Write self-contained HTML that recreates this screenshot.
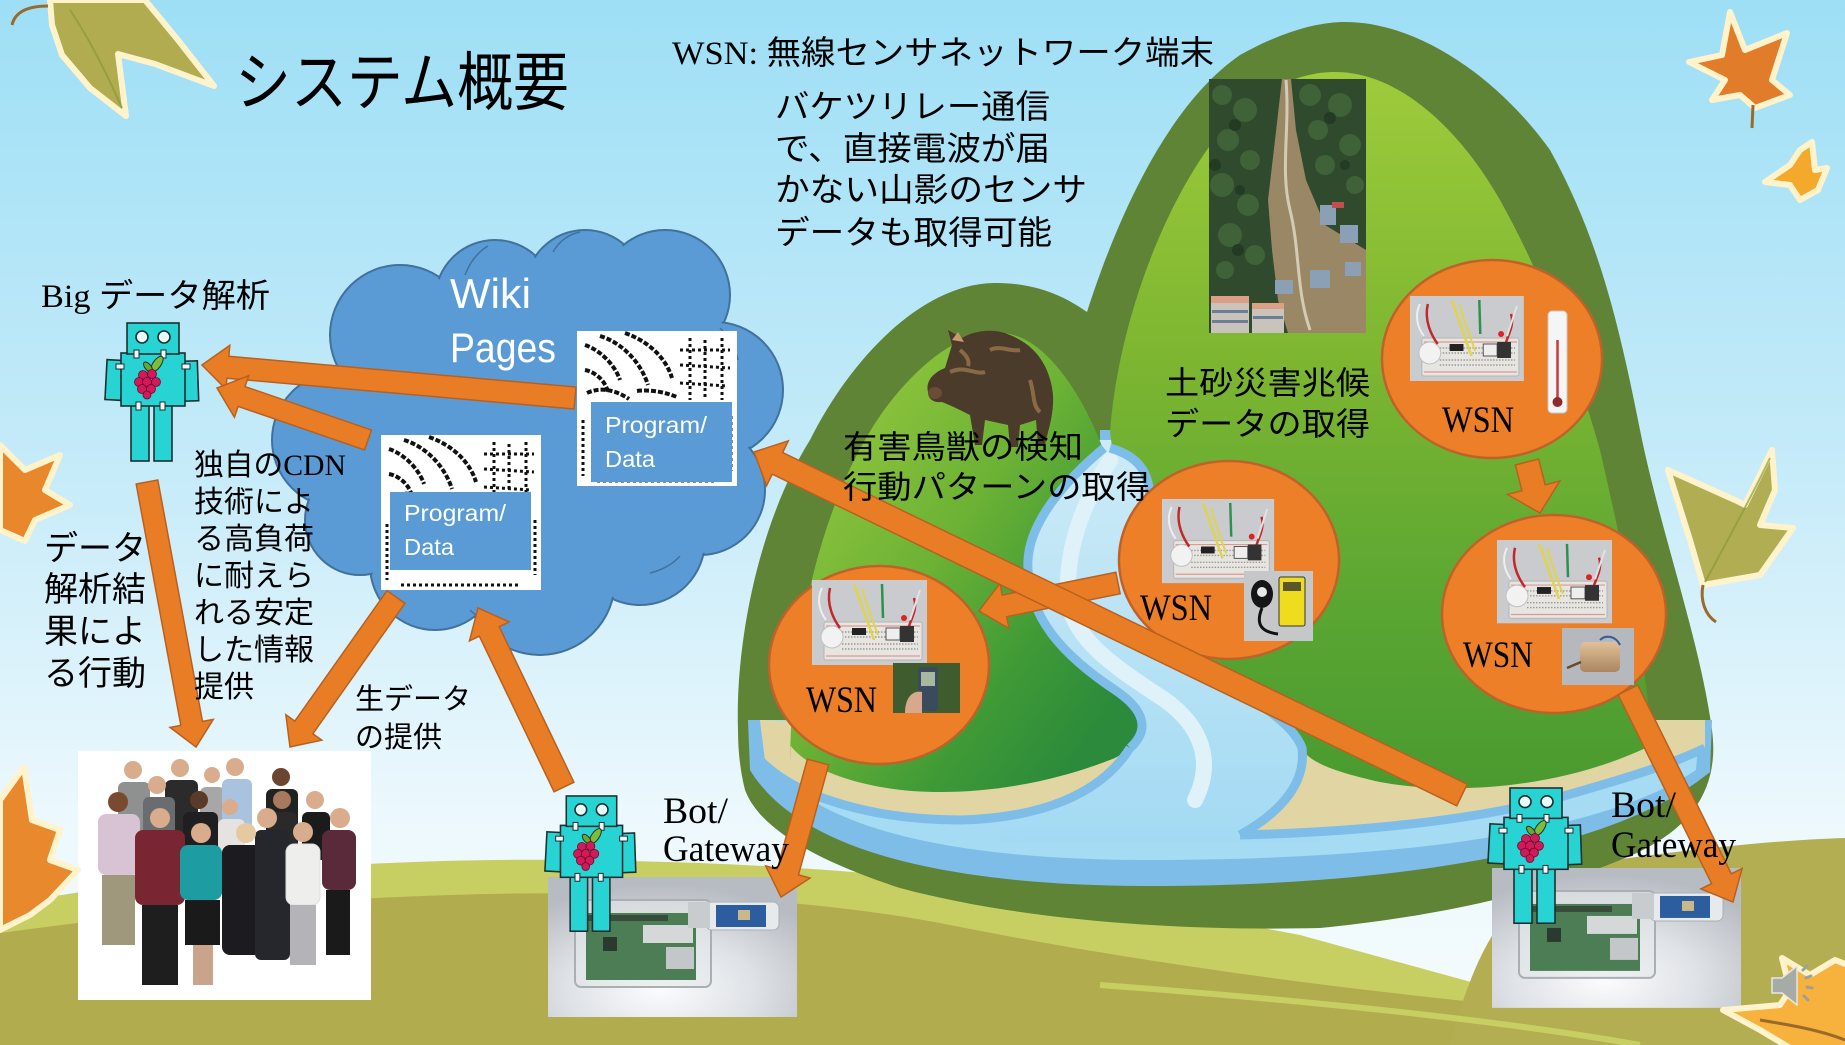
<!DOCTYPE html>
<html><head><meta charset="utf-8">
<style>html,body{margin:0;padding:0;background:#fff;overflow:hidden}svg{display:block}</style>
</head><body>
<svg width="1845" height="1045" viewBox="0 0 1845 1045" xmlns="http://www.w3.org/2000/svg" xmlns:xlink="http://www.w3.org/1999/xlink">
<defs>
  <linearGradient id="sky" x1="0" y1="0" x2="0" y2="1">
    <stop offset="0" stop-color="#9edff6"/>
    <stop offset="0.45" stop-color="#c6ebf9"/>
    <stop offset="0.8" stop-color="#eef9fd"/>
    <stop offset="1" stop-color="#f4fbfd"/>
  </linearGradient>
  <linearGradient id="smallG" x1="0.1" y1="0.1" x2="0.9" y2="0.85">
    <stop offset="0" stop-color="#96c83e"/>
    <stop offset="0.45" stop-color="#6cb235"/>
    <stop offset="0.75" stop-color="#3f9a36"/>
    <stop offset="1" stop-color="#2b8a3b"/>
  </linearGradient>
  <linearGradient id="bigG" x1="0" y1="0" x2="0" y2="1">
    <stop offset="0" stop-color="#9ecb3b"/>
    <stop offset="0.4" stop-color="#7db631"/>
    <stop offset="0.75" stop-color="#5aa632"/>
    <stop offset="1" stop-color="#4a9a30"/>
  </linearGradient>
  <linearGradient id="riverG" x1="0" y1="0" x2="0" y2="1">
    <stop offset="0" stop-color="#cdebf7"/>
    <stop offset="1" stop-color="#a3daf3"/>
  </linearGradient>
  <radialGradient id="gwGrad" cx="0.45" cy="0.8" r="0.75">
    <stop offset="0" stop-color="#fbfcfd"/>
    <stop offset="0.5" stop-color="#dfe2e6"/>
    <stop offset="1" stop-color="#b7bbc2"/>
  </radialGradient>
  <linearGradient id="motorG" x1="0" y1="0" x2="0" y2="1">
    <stop offset="0" stop-color="#e0c09a"/>
    <stop offset="1" stop-color="#a98660"/>
  </linearGradient>

  <g id="robot" stroke="#1d2f30" stroke-width="1.6">
    <rect x="3" y="38" width="16" height="40" fill="#27d3d3" transform="rotate(3 11 58)"/>
    <rect x="81" y="39" width="14" height="40" fill="#27d3d3" transform="rotate(-2 88 59)"/>
    <rect x="28" y="83" width="18" height="56" fill="#27d3d3"/>
    <rect x="51" y="83" width="18" height="56" fill="#27d3d3"/>
    <rect x="18" y="31" width="64" height="53" fill="#27d3d3"/>
    <rect x="24" y="1" width="52" height="31" fill="#27d3d3"/>
    <circle cx="39" cy="15" r="6" fill="#e8fbfb"/>
    <circle cx="61" cy="15" r="6" fill="#e8fbfb"/>
    <g fill="#f4f4f4" stroke-width="1">
      <rect x="31" y="28" width="5" height="8"/><rect x="58" y="28" width="5" height="8"/>
      <rect x="13" y="42" width="8" height="5"/><rect x="79" y="42" width="8" height="5"/>
      <rect x="33" y="80" width="5" height="8"/><rect x="57" y="80" width="5" height="8"/>
    </g>
    <ellipse cx="54" cy="42" rx="4" ry="9" fill="#7cbd3a" transform="rotate(35 54 42)" stroke-width="1"/>
    <ellipse cx="45" cy="45" rx="3" ry="6" fill="#6aa832" transform="rotate(-40 45 45)" stroke-width="1"/>
    <g fill="#d3195a" stroke="#6a0a2a" stroke-width="0.8">
      <circle cx="40" cy="53" r="4.5"/><circle cx="49" cy="52" r="4.5"/>
      <circle cx="36" cy="60" r="4.5"/><circle cx="44" cy="60" r="4.5"/><circle cx="53" cy="60" r="4.5"/>
      <circle cx="39" cy="67" r="4.5"/><circle cx="48" cy="67" r="4.5"/>
      <circle cx="44" cy="73" r="4"/>
    </g>
  </g>

  <g id="bb">
    <rect width="115" height="85" fill="#c9cbce"/>
    <rect x="12" y="42" width="98" height="38" rx="2" fill="#e6e5e0" stroke="#b5b5b5"/>
    <line x1="14" y1="46" x2="108" y2="46" stroke="#d99" stroke-width="1.2"/>
    <line x1="14" y1="76" x2="108" y2="76" stroke="#d99" stroke-width="1.2"/>
    <g stroke="#9a9a9a" stroke-width="1.4" stroke-dasharray="1.5 1.5">
      <line x1="30" y1="52" x2="106" y2="52"/><line x1="30" y1="57" x2="106" y2="57"/>
      <line x1="30" y1="64" x2="106" y2="64"/><line x1="30" y1="69" x2="106" y2="69"/>
    </g>
    <path d="M10 8 C 4 20, 8 32, 14 40" stroke="#eeeeee" stroke-width="2" fill="none"/>
    <circle cx="20" cy="57" r="11" fill="#f2f2f2" stroke="#c0c0c0"/>
    <path d="M18 8 C 14 25, 22 40, 28 48" stroke="#c0282c" stroke-width="2.5" fill="none"/>
    <path d="M42 4 C 48 20, 55 40, 62 60" stroke="#e0d54a" stroke-width="2.5" fill="none"/>
    <path d="M50 8 C 55 25, 60 40, 66 55" stroke="#e0d54a" stroke-width="2" fill="none"/>
    <path d="M70 4 L 71 38" stroke="#2f8f4f" stroke-width="2.5"/>
    <path d="M102 18 C 106 30, 98 40, 96 50" stroke="#c0282c" stroke-width="2.5" fill="none"/>
    <path d="M108 10 L 98 40" stroke="#e2e2e2" stroke-width="2"/>
    <rect x="40" y="48" width="14" height="7" fill="#222"/>
    <rect x="74" y="48" width="14" height="12" fill="#eee" stroke="#555"/>
    <rect x="88" y="46" width="14" height="16" fill="#333"/>
    <circle cx="92" cy="38" r="3" fill="#d22"/>
  </g>

  <g id="gw">
    <rect width="249" height="140" fill="url(#gwGrad)"/>
    <rect x="27" y="23" width="136" height="87" rx="6" fill="#e4e8ea" fill-opacity="0.6" stroke="#a9b0b5" stroke-width="2"/>
    <rect x="38" y="36" width="110" height="67" fill="#4d7d55"/>
    <rect x="40" y="38" width="80" height="6" fill="#2c2c2c" opacity="0.6"/>
    <rect x="95" y="48" width="50" height="18" fill="#d5d8d8"/>
    <rect x="118" y="70" width="28" height="22" fill="#c3c7c9"/>
    <rect x="55" y="60" width="14" height="14" fill="#2a3a2e"/>
    <rect x="158" y="25" width="73" height="28" rx="6" fill="#e6eaed" stroke="#a9b0b8"/>
    <rect x="168" y="28" width="50" height="22" fill="#2c5d9e"/>
    <rect x="190" y="33" width="12" height="10" fill="#c9b98a"/>
    <rect x="140" y="25" width="22" height="26" fill="#c8ccce"/>
  </g>

  <g id="qr">
    <rect width="160" height="155" fill="#fff"/>
    <g stroke="#111" fill="none" stroke-width="4" stroke-dasharray="5 2">
      <path d="M8,14 C23,19 38,34 43,49"/>
      <path d="M23,5 C43,11 63,29 71,54"/>
      <path d="M48,2 C68,9 88,24 95,47"/>
      <path d="M8,39 C18,41 28,49 31,61"/>
      <path d="M10,62 C25,55 40,60 52,68"/>
      <path d="M60,60 C75,58 90,62 100,66"/>
    </g>
    <g stroke="#111" fill="none" stroke-width="3" stroke-dasharray="3 3">
      <path d="M113,7 L113,69"/><path d="M128,9 L128,69"/><path d="M145,7 L145,69"/>
      <path d="M103,19 L153,19"/><path d="M103,34 L153,37"/><path d="M103,52 L150,55"/>
      <path d="M6,89 L6,145"/><path d="M154,85 L154,140"/>
      <path d="M20,150 L140,150"/>
    </g>
  </g>
</defs>

<!-- Sky -->
<rect width="1845" height="1045" fill="url(#sky)"/>

<!-- Hills -->
<path d="M0,905 C200,870 400,858 560,860 C800,862 1000,878 1300,935 L1700,1045 L0,1045 Z" fill="#c8cf62"/>
<path d="M0,933 C150,912 300,900 450,895 C600,890 800,895 950,925 C1150,965 1350,990 1550,1010 L1550,1045 L0,1045 Z" fill="#b1ad4f"/>
<path d="M1450,1045 C1480,930 1520,875 1600,862 C1700,848 1780,840 1845,838 L1845,1045 Z" fill="#b3ae51"/>
<path d="M1100,985 C1300,1000 1500,1020 1640,1045" stroke="#c8cf62" stroke-width="6" fill="none"/>

<!-- Mountain outer -->
<path d="M738,730 C735,640 760,520 810,440 C850,360 920,285 993,283 C1040,282 1070,300 1087,312 C1110,240 1160,110 1240,55 C1285,30 1320,22 1345,22 C1420,22 1500,80 1550,150 C1600,240 1620,330 1640,430 C1660,530 1700,640 1712,730 C1720,790 1690,830 1630,856 C1550,890 1450,915 1320,928 C1150,932 1000,915 900,888 C820,862 760,830 745,790 C740,770 738,750 738,730 Z" fill="#5f8436"/>

<!-- River / water bottom -->
<path d="M1100,430 L1170,430 L1170,720 L1712,720 L1710,772 C1600,862 1350,886 1150,886 C950,886 800,852 750,770 L748,720 L1100,720 Z" fill="#7dbde8"/>
<path d="M1110,440 L1160,440 L1160,720 L1700,720 L1696,770 C1590,842 1350,860 1150,860 C960,860 820,832 765,760 L760,720 L1110,720 Z" fill="#a5dbf3"/>
<rect x="1000" y="440" width="320" height="402" fill="url(#riverG)"/>
<path d="M1110,460 C1085,500 1066,545 1068,595 C1070,640 1120,670 1165,700 C1200,725 1215,760 1195,800" stroke="#dff2fa" stroke-width="16" fill="none" stroke-linecap="round"/>

<!-- Sand -->
<path d="M760,720 L1130,740 C1100,792 1040,816 960,818 C870,818 800,795 765,760 Z" fill="#e2d5a4"/>
<path d="M1300,720 L1705,720 L1705,748 C1670,765 1620,780 1560,797 C1470,822 1350,832 1240,835 C1285,810 1305,780 1300,740 Z" fill="#e2d5a4"/>

<!-- Inner greens -->
<path d="M790,770 C790,620 830,470 900,390 C940,345 970,333 1000,333 C1040,333 1078,385 1102,446 C1068,478 1030,520 1028,560 C1025,620 1070,660 1115,690 C1150,712 1150,740 1115,758 C1060,780 1000,792 940,792 C870,792 810,772 790,745 Z" fill="url(#smallG)"/>
<path d="M1110,432 C1118,320 1170,180 1240,110 C1280,80 1310,72 1335,72 C1400,72 1460,130 1500,200 C1550,290 1580,380 1600,450 C1625,560 1645,650 1652,745 C1560,790 1450,795 1380,782 C1335,772 1308,762 1302,748 C1290,715 1230,690 1195,655 C1160,615 1150,560 1150,500 C1150,472 1138,456 1112,447 Z" fill="url(#bigG)"/>

<!-- River bank strokes -->
<g stroke="#7dbde8" stroke-width="9" fill="none">
  <path d="M1104,448 C1068,478 1030,520 1028,560 C1025,620 1070,660 1115,690 C1145,710 1150,730 1130,748"/>
  <path d="M1130,748 C1100,795 1040,818 960,820 C880,820 800,800 762,762"/>
  <path d="M1110,448 C1138,456 1150,472 1150,500 C1150,560 1160,615 1195,655 C1230,690 1290,715 1302,748 C1306,780 1285,810 1240,835"/>
  <path d="M1240,835 C1350,832 1470,822 1560,797 C1620,780 1670,765 1705,748"/>
</g>

<!-- Landslide photo -->
<g>
  <rect x="1209" y="79" width="157" height="254" fill="#2f4a2d"/>
  <g fill="#3f6238">
    <circle cx="1222" cy="95" r="10"/><circle cx="1245" cy="110" r="12"/><circle cx="1228" cy="140" r="11"/>
    <circle cx="1250" cy="160" r="10"/><circle cx="1222" cy="185" r="12"/><circle cx="1248" cy="205" r="11"/>
    <circle cx="1230" cy="235" r="12"/><circle cx="1255" cy="255" r="10"/><circle cx="1225" cy="270" r="9"/>
    <circle cx="1310" cy="95" r="11"/><circle cx="1340" cy="105" r="12"/><circle cx="1318" cy="130" r="10"/>
    <circle cx="1350" cy="145" r="11"/><circle cx="1325" cy="165" r="10"/><circle cx="1355" cy="185" r="9"/>
  </g>
  <g fill="#243b23">
    <circle cx="1235" cy="125" r="6"/><circle cx="1215" cy="165" r="6"/><circle cx="1240" cy="190" r="5"/>
    <circle cx="1330" cy="118" r="6"/><circle cx="1345" cy="165" r="5"/><circle cx="1238" cy="250" r="6"/>
  </g>
  <path d="M1282,79 L1291,79 L1296,130 L1306,180 L1325,225 L1366,250 L1366,333 L1288,333 L1278,300 L1272,250 L1268,200 L1275,140 Z" fill="#9a8766"/>
  <path d="M1286,80 C1290,130 1280,170 1290,210 C1300,250 1296,290 1310,330" stroke="#d3cbb5" stroke-width="3" fill="none"/>
  <g fill="#c9c3bb">
    <rect x="1211" y="298" width="38" height="35"/><rect x="1252" y="305" width="32" height="28"/>
  </g>
  <g fill="#dba084"><rect x="1211" y="296" width="38" height="7"/><rect x="1252" y="303" width="32" height="6"/></g>
  <g fill="#6b7e93"><rect x="1212" y="310" width="36" height="3"/><rect x="1212" y="320" width="36" height="3"/><rect x="1253" y="316" width="30" height="3"/></g>
  <g fill="#8b9fb5"><rect x="1320" y="205" width="16" height="20"/><rect x="1340" y="225" width="18" height="18"/><rect x="1310" y="270" width="20" height="18"/><rect x="1275" y="280" width="18" height="14"/><rect x="1345" y="262" width="16" height="14"/></g>
  <rect x="1332" y="202" width="12" height="6" fill="#c0504d"/>
</g>

<!-- Boar -->
<g>
  <path d="M928,392 C925,380 935,372 945,368 L952,345 L948,330 L962,338 C975,330 995,328 1010,335 C1035,345 1050,365 1053,395 C1054,415 1048,430 1045,445 L1038,445 L1036,420 L1020,425 L1018,447 L1010,447 L1008,425 L985,420 L982,445 L975,445 L970,415 C960,410 950,405 942,402 C935,403 928,400 928,392 Z" fill="#4b3b2a"/>
  <path d="M950,372 C965,365 975,375 985,372 M990,350 C1000,345 1010,352 1020,350 M1030,380 C1035,395 1032,405 1040,412 M960,350 C966,355 970,360 968,366" stroke="#8a6a46" stroke-width="4" fill="none"/>
  <ellipse cx="935" cy="393" rx="7" ry="6" fill="#6b4c34"/>
  <path d="M952,340 L958,332 L964,342 Z" fill="#c89a74"/>
</g>

<!-- Cloud -->
<g fill="#5b9bd5" stroke="#41719c" stroke-width="2">
  <circle cx="340" cy="440" r="68"/><circle cx="400" cy="335" r="70"/><circle cx="495" cy="300" r="60"/>
  <circle cx="585" cy="290" r="60"/><circle cx="665" cy="295" r="65"/><circle cx="715" cy="390" r="68"/>
  <circle cx="700" cy="490" r="65"/><circle cx="640" cy="540" r="65"/><circle cx="540" cy="580" r="75"/>
  <circle cx="435" cy="565" r="65"/><circle cx="360" cy="520" r="55"/>
</g>
<g fill="#5b9bd5">
  <circle cx="340" cy="440" r="66"/><circle cx="400" cy="335" r="68"/><circle cx="495" cy="300" r="58"/>
  <circle cx="585" cy="290" r="58"/><circle cx="665" cy="295" r="63"/><circle cx="715" cy="390" r="66"/>
  <circle cx="700" cy="490" r="63"/><circle cx="640" cy="540" r="63"/><circle cx="540" cy="580" r="73"/>
  <circle cx="435" cy="565" r="63"/><circle cx="360" cy="520" r="53"/>
  <ellipse cx="535" cy="440" rx="200" ry="150"/>
</g>
<g stroke="#41719c" stroke-width="1.5" fill="none">
  <path d="M465,275 C470,262 478,252 488,246"/>
  <path d="M553,252 C560,240 570,234 580,232"/>
  <path d="M720,328 C730,338 736,350 738,360"/>
  <path d="M680,556 C672,565 662,570 650,573"/>
  <path d="M470,610 C478,618 488,622 498,624"/>
</g>

<!-- Cloud images -->
<use href="#qr" xlink:href="#qr" transform="translate(577,331)"/>
<rect x="591" y="402" width="141" height="80" fill="#5b9bd5"/>
<use href="#qr" xlink:href="#qr" transform="translate(381,435)"/>
<rect x="390" y="492" width="141" height="78" fill="#5b9bd5"/>

<!-- WSN circles -->
<g fill="#ec7f27" stroke="#bf622a" stroke-width="2.5">
  <ellipse cx="1492" cy="359" rx="110" ry="99"/>
  <ellipse cx="1229" cy="560" rx="110" ry="99"/>
  <ellipse cx="879" cy="665" rx="110" ry="99"/>
  <ellipse cx="1554" cy="614" rx="112" ry="99"/>
</g>

<!-- Circle contents -->
<use href="#bb" xlink:href="#bb" transform="translate(1410,296) scale(0.99,1)"/>
<use href="#bb" xlink:href="#bb" transform="translate(1162,499) scale(0.975,0.99)"/>
<use href="#bb" xlink:href="#bb" transform="translate(812,580)"/>
<use href="#bb" xlink:href="#bb" transform="translate(1497,540) scale(1,0.98)"/>
<g>
  <rect x="1548" y="311" width="19" height="102" rx="4" fill="#f5f5f5" stroke="#c9c9c9"/>
  <line x1="1557.5" y1="340" x2="1557.5" y2="398" stroke="#c8383c" stroke-width="2.5"/>
  <circle cx="1557.5" cy="402" r="5" fill="#8e2a2a"/>
</g>
<g>
  <rect x="1244" y="571" width="69" height="70" fill="#c6c7c8"/>
  <ellipse cx="1262" cy="594" rx="11" ry="14" fill="#151515"/>
  <circle cx="1262" cy="592" r="5" fill="#e8e8e8"/>
  <path d="M1262,608 C1255,625 1262,632 1278,634" stroke="#111" stroke-width="3" fill="none"/>
  <rect x="1279" y="577" width="26" height="49" rx="2" fill="#f0dc1e" stroke="#333"/>
  <rect x="1283" y="582" width="18" height="9" fill="#59572a"/>
</g>
<g>
  <rect x="893" y="663" width="67" height="50" fill="#3e5c2e"/>
  <rect x="918" y="667" width="20" height="44" rx="4" fill="#3c4a5e"/>
  <rect x="921" y="672" width="14" height="14" fill="#a8b8a0"/>
  <path d="M905,713 C905,695 915,690 922,692 L922,713 Z" fill="#d6a98e"/>
</g>
<g>
  <rect x="1562" y="628" width="72" height="57" fill="#b5b9bd"/>
  <rect x="1580" y="642" width="40" height="30" rx="5" fill="url(#motorG)"/>
  <path d="M1600,640 C1605,635 1615,635 1620,645" stroke="#3c5a9e" stroke-width="2" fill="none"/>
  <line x1="1567" y1="668" x2="1581" y2="662" stroke="#6a4a2a" stroke-width="2.5"/>
</g>

<!-- People photo -->
<g>
  <rect x="78" y="751" width="293" height="249" fill="#ffffff"/>
  <g>
    <rect x="118" y="782" width="32" height="58" rx="6" fill="#8e9190"/>
    <rect x="165" y="780" width="33" height="55" rx="6" fill="#2b2b2b"/>
    <rect x="200" y="787" width="25" height="48" rx="6" fill="#a7a7aa"/>
    <rect x="222" y="779" width="30" height="61" rx="6" fill="#a9c3de"/>
    <rect x="266" y="789" width="32" height="61" rx="6" fill="#222"/>
    <rect x="143" y="797" width="32" height="63" rx="6" fill="#6a6d70"/>
    <rect x="183" y="812" width="35" height="58" rx="6" fill="#1f1f22"/>
    <rect x="218" y="819" width="27" height="41" rx="6" fill="#e6e2e0"/>
    <rect x="268" y="812" width="29" height="48" rx="6" fill="#2a2a2a"/>
    <rect x="302" y="812" width="28" height="48" rx="6" fill="#1b1b1b"/>
  </g>
  <g fill="#d9ac8e">
    <circle cx="133" cy="770" r="9"/><circle cx="180" cy="768" r="9"/><circle cx="212" cy="775" r="8"/>
    <circle cx="235" cy="767" r="9"/><circle cx="281" cy="777" r="9" fill="#6b4530"/><circle cx="157" cy="785" r="9"/>
    <circle cx="199" cy="800" r="9" fill="#5a3a28"/><circle cx="230" cy="807" r="8"/><circle cx="282" cy="800" r="9" fill="#a67a5a"/>
    <circle cx="315" cy="800" r="9"/>
  </g>
  <g>
    <rect x="98" y="814" width="42" height="61" rx="8" fill="#d7c3d3"/>
    <rect x="102" y="875" width="33" height="70" fill="#9f987c"/>
    <rect x="135" y="830" width="50" height="75" rx="8" fill="#7a2632"/>
    <rect x="142" y="905" width="36" height="80" fill="#1e1e1e"/>
    <rect x="180" y="845" width="42" height="55" rx="8" fill="#1d9da2"/>
    <rect x="185" y="900" width="35" height="45" fill="#1a1a1a"/>
    <rect x="193" y="945" width="20" height="40" fill="#c9a48a"/>
    <rect x="222" y="845" width="44" height="110" rx="8" fill="#1c1c20"/>
    <rect x="255" y="830" width="35" height="130" rx="6" fill="#26272c"/>
    <rect x="286" y="844" width="34" height="61" rx="8" fill="#eeeeec" stroke="#ddd"/>
    <rect x="290" y="905" width="26" height="60" fill="#b4b4b8"/>
    <rect x="322" y="830" width="34" height="60" rx="8" fill="#5b2a3a"/>
    <rect x="326" y="890" width="24" height="65" fill="#1a1a1a"/>
  </g>
  <g fill="#d9ac8e">
    <circle cx="118" cy="802" r="10" fill="#7a4a30"/><circle cx="160" cy="818" r="10"/><circle cx="201" cy="833" r="10"/>
    <circle cx="246" cy="833" r="10" fill="#e6c9a0"/><circle cx="267" cy="818" r="10"/><circle cx="303" cy="832" r="10"/>
    <circle cx="340" cy="818" r="10"/>
  </g>
</g>
<use href="#gw" xlink:href="#gw" transform="translate(548,877)"/>
<use href="#gw" xlink:href="#gw" transform="translate(1492,868) scale(1.0,0.999)"/>

<!-- Arrows -->
<g fill="#e97d26" stroke="#b9601f" stroke-width="1.5">
  <polygon transform="translate(575,398) rotate(185.06)" points="0,-11 348.5,-11 348.5,-22 374.5,0 348.5,22 348.5,11 0,11"/>
  <polygon transform="translate(368,440) rotate(199)" points="0,-10.5 133.7,-10.5 133.7,-22 159.7,0 133.7,22 133.7,10.5 0,10.5"/>
  <polygon transform="translate(147,482) rotate(79.52)" points="0,-11 245.5,-11 245.5,-22 269.5,0 245.5,22 245.5,11 0,11"/>
  <polygon transform="translate(396,597) rotate(125.25)" points="0,-11 159.7,-11 159.7,-22 183.7,0 159.7,22 159.7,11 0,11"/>
  <polygon transform="translate(564,787) rotate(-115.65)" points="0,-11 172.6,-11 172.6,-22 198.6,0 172.6,22 172.6,11 0,11"/>
  <polygon transform="translate(1118,583) rotate(168.6)" points="0,-11 115.8,-11 115.8,-23 141.8,0 115.8,23 115.8,11 0,11"/>
  <polygon transform="translate(1462,795) rotate(205.85)" points="0,-12 760.7,-12 760.7,-25 786.7,0 760.7,25 760.7,12 0,12"/>
  <polygon transform="translate(1527,462) rotate(75.7)" points="0,-12 26.6,-12 26.6,-27 52.6,0 26.6,27 26.6,12 0,12"/>
  <polygon transform="translate(818,762) rotate(105.33)" points="0,-11 114,-11 114,-23 140,0 114,23 114,11 0,11"/>
  <polygon transform="translate(1628,690) rotate(63.65)" points="0,-11 210.6,-11 210.6,-23 236.6,0 210.6,23 210.6,11 0,11"/>
</g>

<!-- Robots -->
<use href="#robot" xlink:href="#robot" transform="translate(103,322)"/>
<use href="#robot" xlink:href="#robot" transform="translate(543,795) scale(0.97,0.98)"/>
<use href="#robot" xlink:href="#robot" transform="translate(1486,787) scale(1,0.98)"/>

<!-- Leaves -->
<g stroke="#fff3cc" stroke-width="6" stroke-linejoin="round">
  <polygon points="50,0 145,0 178,40 214,86 155,64 118,54 126,116 90,88 62,55 52,25" fill="#b0ac4f"/>
  <polygon points="1730,12 1745,50 1787,33 1772,80 1790,95 1755,108 1740,95 1712,100 1725,80 1689,62 1722,55" fill="#e07c2a"/>
  <polygon points="1812,142 1815,170 1827,168 1818,190 1800,200 1790,185 1765,182 1790,165 1800,150" fill="#f2a92c"/>
  <polygon points="1772,450 1745,505 1735,500 1668,470 1690,540 1703,585 1760,575 1793,528 1760,525 1775,490" fill="#b0ad53"/>
  <polygon points="0,445 25,470 60,455 45,490 70,505 35,520 25,541 0,530" fill="#e9872c"/>
  <polygon points="24,767 32,820 60,830 50,860 78,870 50,900 30,915 0,930 0,800" fill="#e8892e"/>
  <polygon points="1782,958 1810,975 1835,960 1848,965 1848,1048 1790,1048 1760,1030 1723,1010 1780,1005 1790,990" fill="#f6b23c"/>
</g>
<g stroke="#9a6a2c" stroke-width="3" fill="none">
  <path d="M12,25 C15,12 28,6 48,6"/>
  <path d="M1753,105 L1752,128"/>
  <path d="M1703,585 C1700,600 1705,615 1716,622"/>
  <path d="M1760,1020 C1790,1025 1820,1030 1845,1040"/>
</g>
<g stroke="#8a9a3a" stroke-width="2" fill="none" opacity="0.7">
  <path d="M70,10 C90,40 105,70 122,108"/>
  <path d="M1770,458 C1750,500 1725,545 1705,582"/>
</g>
<!-- speaker -->
<g fill="#a7aba5" stroke="#e6e8e4" stroke-width="1.5">
  <polygon points="1772,978 1782,978 1797,966 1797,1005 1782,993 1772,993"/>
</g>
<g stroke="#9aa09a" stroke-width="3" stroke-linecap="round">
  <line x1="1803" y1="970" x2="1807" y2="966"/><line x1="1806" y1="978" x2="1811" y2="976"/>
  <line x1="1807" y1="987" x2="1812" y2="988"/><line x1="1804" y1="996" x2="1808" y2="1000"/>
</g>

<!-- Text -->
<g font-family="'Liberation Sans','Noto Sans CJK JP',sans-serif" fill="#000">
  <text x="235" y="105" font-size="64" textLength="334" lengthAdjust="spacingAndGlyphs">システム概要</text>
  <text x="672" y="64" font-size="33" textLength="542" lengthAdjust="spacingAndGlyphs"><tspan font-family="'Liberation Serif','Noto Sans CJK JP',serif">WSN: </tspan>無線センサネットワーク端末</text>
  <text x="775" y="118" font-size="33" textLength="275" lengthAdjust="spacingAndGlyphs">バケツリレー通信</text>
  <text x="775" y="160" font-size="33" textLength="275" lengthAdjust="spacingAndGlyphs">で、直接電波が届</text>
  <text x="775" y="201" font-size="33" textLength="312" lengthAdjust="spacingAndGlyphs">かない山影のセンサ</text>
  <text x="775" y="244" font-size="33" textLength="277" lengthAdjust="spacingAndGlyphs">データも取得可能</text>

  <text x="41" y="307" font-size="33" textLength="229" lengthAdjust="spacingAndGlyphs"><tspan font-family="'Liberation Serif','Noto Sans CJK JP',serif">Big </tspan>データ解析</text>

  <text x="194" y="475" font-size="30" textLength="152" lengthAdjust="spacingAndGlyphs">独自の<tspan font-family="'Liberation Serif','Noto Sans CJK JP',serif">CDN</tspan></text>
  <text x="194" y="512" font-size="30">技術によ</text>
  <text x="194" y="549" font-size="30">る高負荷</text>
  <text x="194" y="586" font-size="30">に耐えら</text>
  <text x="194" y="623" font-size="30">れる安定</text>
  <text x="194" y="660" font-size="30">した情報</text>
  <text x="194" y="697" font-size="30">提供</text>

  <text x="44" y="560" font-size="34">データ</text>
  <text x="44" y="601" font-size="34">解析結</text>
  <text x="44" y="643" font-size="34">果によ</text>
  <text x="44" y="685" font-size="34">る行動</text>

  <text x="355" y="709" font-size="29">生データ</text>
  <text x="355" y="747" font-size="29">の提供</text>

  <text x="843" y="458" font-size="32" textLength="240" lengthAdjust="spacingAndGlyphs">有害鳥獣の検知</text>
  <text x="843" y="498" font-size="32" textLength="307" lengthAdjust="spacingAndGlyphs">行動パターンの取得</text>

  <text x="1165" y="394" font-size="32" textLength="205" lengthAdjust="spacingAndGlyphs">土砂災害兆候</text>
  <text x="1165" y="435" font-size="32" textLength="205" lengthAdjust="spacingAndGlyphs">データの取得</text>
</g>

<g font-family="'Liberation Sans',sans-serif" fill="#ffffff">
  <text x="450" y="308" font-size="42" textLength="81" lengthAdjust="spacingAndGlyphs">Wiki</text>
  <text x="450" y="362" font-size="42" textLength="106" lengthAdjust="spacingAndGlyphs">Pages</text>
  <text x="605" y="433" font-size="23" textLength="102" lengthAdjust="spacingAndGlyphs">Program/</text>
  <text x="605" y="467" font-size="23" textLength="50" lengthAdjust="spacingAndGlyphs">Data</text>
  <text x="404" y="521" font-size="23" textLength="102" lengthAdjust="spacingAndGlyphs">Program/</text>
  <text x="404" y="555" font-size="23" textLength="50" lengthAdjust="spacingAndGlyphs">Data</text>
</g>

<g font-family="'Liberation Serif',serif" fill="#000">
  <text x="1442" y="432" font-size="37" textLength="72" lengthAdjust="spacingAndGlyphs">WSN</text>
  <text x="1140" y="620" font-size="37" textLength="72" lengthAdjust="spacingAndGlyphs">WSN</text>
  <text x="806" y="712" font-size="37" textLength="71" lengthAdjust="spacingAndGlyphs">WSN</text>
  <text x="1463" y="667" font-size="37" textLength="70" lengthAdjust="spacingAndGlyphs">WSN</text>
  <text x="663" y="823" font-size="37" textLength="65" lengthAdjust="spacingAndGlyphs">Bot/</text>
  <text x="663" y="861" font-size="37" textLength="126" lengthAdjust="spacingAndGlyphs">Gateway</text>
  <text x="1611" y="817" font-size="37" textLength="65" lengthAdjust="spacingAndGlyphs">Bot/</text>
  <text x="1611" y="857" font-size="37" textLength="125" lengthAdjust="spacingAndGlyphs">Gateway</text>
</g>
</svg>
</body></html>
